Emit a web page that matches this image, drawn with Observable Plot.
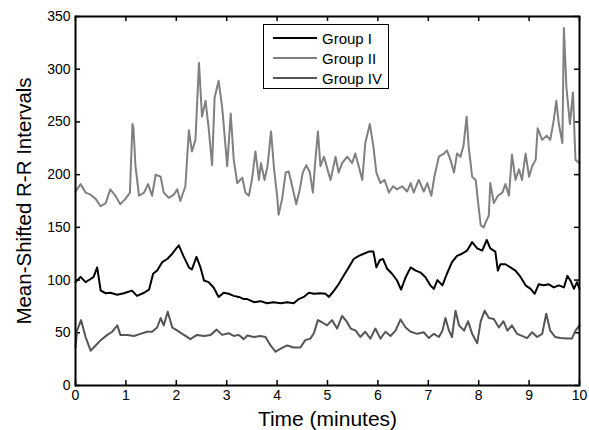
<!DOCTYPE html>
<html><head><meta charset="utf-8">
<script src="https://cdn.jsdelivr.net/npm/d3@7"></script>
<script src="https://cdn.jsdelivr.net/npm/@observablehq/plot@0.6"></script>
<style>
body{margin:0;background:#fff;}
#wrap{position:relative;width:589px;height:430px;font-family:"Liberation Sans",Arial,sans-serif;}
#legend{position:absolute;left:263px;top:24px;width:126px;height:65px;border:1px solid #000;background:#fff;box-sizing:border-box;}
.row{position:absolute;left:0;height:20px;display:flex;align-items:center;font-size:15px;color:#000;}
.row .ln{display:inline-block;width:44px;height:0;border-top:2px solid;margin-left:9px;margin-right:5px;}
</style></head>
<body><div id="wrap"><div id="legend"></div></div>
<script>
const seriesNames = ["Group I", "Group II", "Group IV"];
const seriesColors = ["#000000", "#808080", "#555555"];
const xTicks = [0,1,2,3,4,5,6,7,8,9,10];
const yTicks = [0,50,100,150,200,250,300,350];

const g1Time = [0.00,0.10,0.20,0.30,0.36,0.43,0.50,0.60,0.69,0.83,0.96,1.12,1.22,1.36,1.46,1.54,1.62,1.72,1.82,1.92,2.00,2.05,2.14,2.25,2.31,2.40,2.48,2.55,2.64,2.74,2.84,2.94,3.04,3.14,3.24,3.34,3.41,3.54,3.67,3.80,3.93,4.07,4.20,4.33,4.43,4.53,4.63,4.73,4.86,4.96,5.03,5.13,5.22,5.32,5.42,5.52,5.62,5.72,5.82,5.91,5.97,6.04,6.10,6.18,6.28,6.38,6.46,6.55,6.65,6.75,6.85,6.94,7.04,7.11,7.18,7.28,7.37,7.47,7.57,7.67,7.77,7.87,7.97,8.07,8.16,8.23,8.33,8.38,8.43,8.53,8.63,8.73,8.83,8.93,9.03,9.11,9.19,9.29,9.39,9.49,9.59,9.69,9.76,9.82,9.89,9.95,10.00];
const g1Value = [98,103,98,101,103,112,90,87.5,88,86,87.5,90,85,88,91,106,109,117,120,125,130,133,123,112,110,122,112,99.6,98,93,84,88,87,85,84,82,82,79,80,78,79,78,79,78,82,84,88,87,87.5,87,84,90,96,104,112,120,123,125,127,127,112,119,120,111,106,99.6,91,102.7,112,109,107,103,95,91.7,100,95,106,117,123,125,128,136,130,128,138,130,127,109,115,115,112,109,103,95,91.7,87,96,95,96,93,95,93,104,99.6,91.7,98,91.7];

const g2Time = [0.00,0.10,0.20,0.30,0.40,0.50,0.60,0.69,0.79,0.89,0.99,1.08,1.13,1.15,1.19,1.26,1.36,1.44,1.52,1.59,1.69,1.75,1.85,1.95,2.02,2.08,2.18,2.25,2.31,2.38,2.45,2.51,2.58,2.64,2.71,2.76,2.84,2.91,3.01,3.08,3.14,3.21,3.31,3.37,3.44,3.50,3.57,3.64,3.68,3.75,3.81,3.88,3.94,4.00,4.03,4.10,4.17,4.23,4.30,4.38,4.45,4.51,4.58,4.65,4.71,4.76,4.81,4.86,4.93,5.00,5.06,5.16,5.22,5.29,5.39,5.49,5.55,5.62,5.69,5.75,5.84,5.91,5.97,6.05,6.13,6.22,6.30,6.38,6.48,6.58,6.65,6.71,6.81,6.91,6.98,7.06,7.12,7.21,7.31,7.37,7.44,7.51,7.57,7.64,7.70,7.76,7.80,7.87,7.94,7.99,8.04,8.10,8.14,8.20,8.23,8.30,8.38,8.47,8.53,8.60,8.66,8.73,8.80,8.86,8.93,9.00,9.06,9.13,9.17,9.26,9.35,9.42,9.49,9.54,9.59,9.66,9.69,9.74,9.81,9.87,9.92,10.00];
const g2Value = [184,191,183,181,177,170,173,186,180,172,177,183,248,244,208,180,183,191,180,200,198,183,178,181,186,175,189,242,222,233,306,255,270,245,209,273,289,264,208,258,214,192,197,183,180,195,222,195,211,195,208,241,205,180,162,177,202,203,189,172,186,202,209,202,183,214,241,208,217,205,195,217,202,211,217,211,220,208,195,230,248,227,202,192,195,183,189,186,189,184,192,183,195,184,192,180,198,217,220,223,214,202,220,217,228,255,227,198,195,173,152,150,155,161,192,173,180,183,191,180,219,195,205,195,220,198,208,214,244,233,237,233,252,270,248,230,339,283,248,278,214,211];

const g4Time = [0.00,0.03,0.11,0.20,0.30,0.40,0.50,0.63,0.73,0.83,0.89,1.03,1.16,1.29,1.42,1.52,1.62,1.69,1.75,1.83,1.92,2.02,2.15,2.28,2.41,2.55,2.68,2.80,2.91,3.04,3.14,3.24,3.34,3.41,3.54,3.67,3.77,3.87,3.97,4.07,4.20,4.33,4.46,4.56,4.66,4.73,4.81,4.89,4.99,5.09,5.19,5.29,5.39,5.46,5.56,5.65,5.75,5.85,5.95,6.05,6.15,6.25,6.35,6.45,6.55,6.65,6.78,6.91,7.01,7.11,7.21,7.28,7.34,7.41,7.47,7.54,7.61,7.71,7.79,7.87,7.97,8.04,8.12,8.20,8.30,8.40,8.49,8.57,8.66,8.76,8.86,8.96,9.06,9.16,9.26,9.34,9.42,9.52,9.62,9.76,9.85,9.92,10.00];
const g4Value = [36,52,62,46,33,38,43,48,51,57,48,48,47,49,51,51,55,64,57,70,55,52,48,44,48,47,48,53,48,49.6,47,48,44,47.4,46,47,46,38,32,35,38,36,36,43,44.5,49.6,62,60,57,62,54,66,60,54,52,46,51,44.5,54,44.5,51,47,52,62.6,55,51,49,50.5,45,49,46,52,64,52,46,71,57,52,61,49,40,61,71,64,63,55,61,52,57,49,47,45,50.5,46,49,68,52,46,45,44.5,44.5,52,57];

const seriesTimes = [g1Time, g2Time, g4Time];
const seriesValues = [g1Value, g2Value, g4Value];

const W = 589, H = 430, mL = 75, mR = 10, mT = 16, mB = 45;
const fw = W - mL - mR, fh = H - mT - mB;

const data = seriesNames.flatMap((name, k) =>
  seriesTimes[k].map((t, i) => ({t, v: seriesValues[k][i], g: name})));

const chart = Plot.plot({
  width: W, height: H,
  marginLeft: mL, marginRight: mR, marginTop: mT, marginBottom: mB,
  x: {domain: [0, 10]},
  y: {domain: [0, 350]},
  color: {domain: seriesNames, range: seriesColors},
  style: {fontFamily: "'Liberation Sans', Arial, sans-serif", fontSize: "14px", color: "#000", background: "#fff"},
  marks: [
    Plot.axisX({ticks: xTicks, tickSize: 0, tickPadding: 5, label: null, fontSize: 14}),
    Plot.axisY({ticks: yTicks, tickSize: 0, tickPadding: 5, label: null, fontSize: 14}),
    Plot.tickX(xTicks, {x: d => d, insetTop: fh - 5, strokeWidth: 1.5}),
    Plot.tickX(xTicks, {x: d => d, insetBottom: fh - 5, strokeWidth: 1.5}),
    Plot.tickY(yTicks, {y: d => d, insetRight: fw - 5, strokeWidth: 1.5}),
    Plot.tickY(yTicks, {y: d => d, insetLeft: fw - 5, strokeWidth: 1.5}),
    Plot.line(data, {x: "t", y: "v", z: "g", stroke: "g", strokeWidth: 2}),
    Plot.frame({stroke: "#000", strokeWidth: 2}),
    Plot.text(["Time (minutes)"], {frameAnchor: "bottom", textAnchor: "middle", lineAnchor: "middle", dy: 34, fontSize: 21}),
    Plot.text(["Mean-Shifted R-R Intervals"], {frameAnchor: "left", textAnchor: "middle", lineAnchor: "middle", rotate: -90, dx: -51, fontSize: 20.5})
  ]
});

const wrap = document.getElementById("wrap");
wrap.insertBefore(chart, wrap.firstChild);

const legend = document.getElementById("legend");
seriesNames.forEach((name, k) => {
  const row = document.createElement("div");
  row.className = "row";
  row.style.top = (3 + 20 * k) + "px";
  const ln = document.createElement("span");
  ln.className = "ln";
  ln.style.borderTopColor = seriesColors[k];
  const tx = document.createElement("span");
  tx.textContent = name;
  row.appendChild(ln);
  row.appendChild(tx);
  legend.appendChild(row);
});
</script>
</body></html>
